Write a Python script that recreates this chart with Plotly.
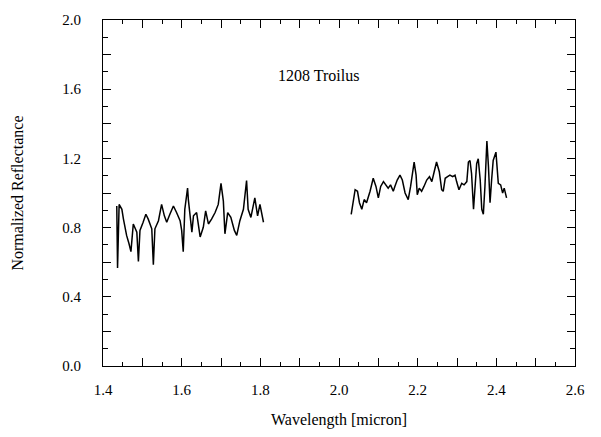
import plotly.graph_objects as go

# Segment 1 (short-wavelength part)
wl1 = [1.435, 1.437, 1.441, 1.448, 1.452, 1.460, 1.466, 1.471, 1.477, 1.486,
       1.490, 1.494, 1.502, 1.509, 1.515, 1.524, 1.528, 1.532, 1.541, 1.549,
       1.556, 1.562, 1.570, 1.579, 1.587, 1.596, 1.600, 1.604, 1.608, 1.615,
       1.617, 1.621, 1.626, 1.630, 1.638, 1.647, 1.655, 1.661, 1.668, 1.676,
       1.685, 1.693, 1.700, 1.706, 1.710, 1.717, 1.725, 1.734, 1.740, 1.748,
       1.757, 1.765, 1.769, 1.776, 1.786, 1.793, 1.799, 1.808]
rf1 = [0.925, 0.567, 0.934, 0.906, 0.849, 0.755, 0.708, 0.661, 0.821, 0.774,
       0.605, 0.784, 0.831, 0.877, 0.849, 0.793, 0.586, 0.793, 0.840, 0.934,
       0.868, 0.831, 0.877, 0.925, 0.887, 0.840, 0.784, 0.661, 0.906, 1.028,
       0.962, 0.877, 0.774, 0.868, 0.887, 0.746, 0.802, 0.897, 0.821, 0.849,
       0.887, 0.934, 1.056, 0.953, 0.764, 0.887, 0.859, 0.784, 0.755, 0.840,
       0.906, 1.072, 0.906, 0.859, 0.972, 0.868, 0.934, 0.831]

# Segment 2 (long-wavelength part)
wl2 = [2.031, 2.035, 2.041, 2.047, 2.052, 2.058, 2.064, 2.070, 2.079, 2.087,
       2.094, 2.100, 2.106, 2.113, 2.120, 2.125, 2.131, 2.138, 2.142, 2.148,
       2.155, 2.161, 2.168, 2.176, 2.182, 2.187, 2.191, 2.196, 2.199, 2.204,
       2.210, 2.216, 2.223, 2.230, 2.236, 2.242, 2.248, 2.255, 2.261, 2.265,
       2.270, 2.276, 2.282, 2.289, 2.295, 2.299, 2.305, 2.312, 2.318, 2.325,
       2.329, 2.333, 2.337, 2.342, 2.346, 2.350, 2.354, 2.359, 2.363, 2.367,
       2.371, 2.376, 2.380, 2.384, 2.388, 2.392, 2.399, 2.405, 2.411, 2.416,
       2.420, 2.426]
rf2 = [0.877, 0.944, 1.019, 1.010, 0.944, 0.906, 0.962, 0.944, 1.010, 1.085,
       1.038, 0.972, 1.038, 1.066, 1.047, 1.028, 1.047, 1.010, 1.038, 1.075,
       1.103, 1.075, 1.000, 0.962, 1.038, 1.123, 1.179, 1.103, 0.990, 1.028,
       1.010, 1.038, 1.075, 1.094, 1.066, 1.123, 1.179, 1.123, 1.019, 1.010,
       1.085, 1.094, 1.103, 1.094, 1.103, 1.066, 1.019, 1.056, 1.047, 1.066,
       1.179, 1.188, 1.113, 0.906, 1.019, 1.169, 1.198, 1.075, 0.906, 0.877,
       1.038, 1.301, 1.151, 0.944, 1.075, 1.188, 1.236, 1.056, 1.047, 1.000,
       1.028, 0.972]

x_tickvals = [1.4, 1.5, 1.6, 1.7, 1.8, 1.9, 2.0, 2.1, 2.2, 2.3, 2.4, 2.5, 2.6]
x_ticktext = ["1.4", "", "1.6", "", "1.8", "", "2.0", "", "2.2", "", "2.4", "", "2.6"]
y_tickvals = [0.0, 0.2, 0.4, 0.6, 0.8, 1.0, 1.2, 1.4, 1.6, 1.8, 2.0]
y_ticktext = ["0.0", "", "0.4", "", "0.8", "", "1.2", "", "1.6", "", "2.0"]

title_text = "1208 Troilus"
font_family = "Liberation Serif, Times New Roman, serif"

fig = go.Figure()
for wl, rf in [(wl1, rf1), (wl2, rf2)]:
    fig.add_trace(go.Scatter(x=wl, y=rf, mode="lines",
                             line=dict(color="black", width=1.5),
                             showlegend=False, hoverinfo="skip"))

fig.add_annotation(x=1.947, y=1.68, text=title_text, showarrow=False,
                   font=dict(family=font_family, size=16, color="black"))

axis_common = dict(
    showgrid=False, zeroline=False, showline=True, linecolor="black",
    linewidth=1, mirror="ticks", ticks="inside", ticklen=8, tickwidth=1.2,
    tickcolor="black", tickmode="array",
    tickfont=dict(family=font_family, size=15, color="black"),
)

fig.update_xaxes(
    **axis_common, range=[1.4, 2.6], tickvals=x_tickvals, ticktext=x_ticktext,
    ticklabelstandoff=10,
    minor=dict(tickmode="linear", tick0=1.45, dtick=0.1, ticks="inside",
               ticklen=4, tickcolor="black", tickwidth=1),
    title=dict(text="Wavelength [micron]", standoff=16,
               font=dict(family=font_family, size=16, color="black")),
)
fig.update_yaxes(
    **axis_common, range=[0.0, 2.0], tickvals=y_tickvals, ticktext=y_ticktext,
    ticklabelstandoff=18,
    minor=dict(tickmode="linear", tick0=0.1, dtick=0.2, ticks="inside",
               ticklen=5, tickcolor="black", tickwidth=1),
    title=dict(text="Normalized Reflectance", standoff=34,
               font=dict(family=font_family, size=16, color="black")),
)

fig.update_layout(
    width=601, height=437,
    margin=dict(l=103, r=26, t=13, b=70),
    paper_bgcolor="white", plot_bgcolor="white",
    font=dict(family=font_family, color="black"),
)

fig.write_html("out.html")
